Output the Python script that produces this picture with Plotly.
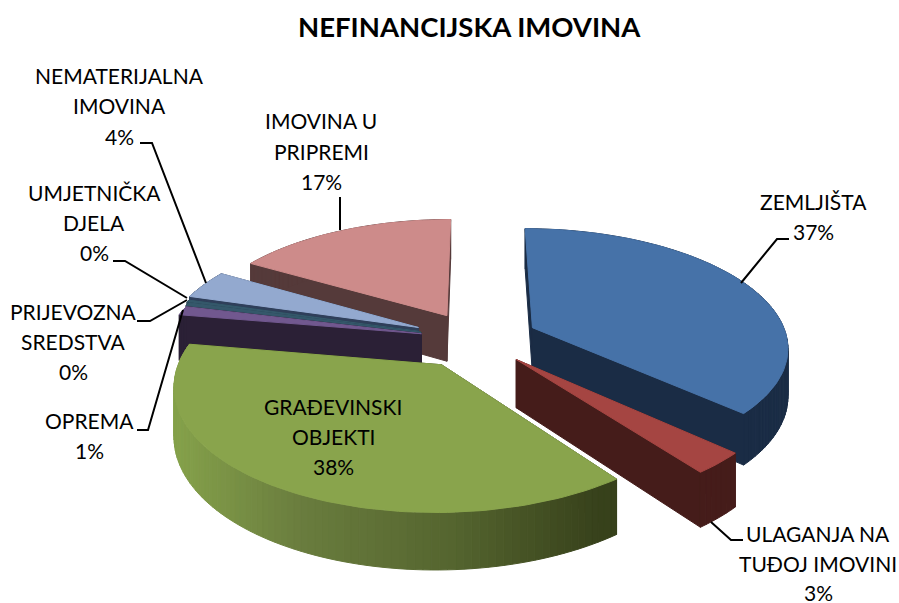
import math
import plotly.graph_objects as go

# ---- data ----
categories = ["ZEMLJIŠTA", "ULAGANJA NA TUĐOJ IMOVINI", "GRAĐEVINSKI OBJEKTI", "OPREMA",
              "PRIJEVOZNA SREDSTVA", "UMJETNIČKA DJELA", "NEMATERIJALNA IMOVINA", "IMOVINA U PRIPREMI"]
values = [36.9, 2.9, 37.9, 1.2, 0.4, 0.3, 3.9, 16.5]
pulls = [0.245, 0.23, 0.25, 0.22, 0.225, 0.235, 0.25, 0.237]
top_colors = ["#4672A8", "#A54542", "#89A44C", "#71588F", "#35586B", "#35586B", "#93A9CF", "#CD8B8A"]
side_colors = ["#1A2C45", "#451C1A", "#56652F", "#2B2036", "#24404F", "#24404F", "#2F3F5A", "#553A3A"]
draw_order = [7, 6, 5, 4, 3, 0, 1, 2]

title_text = "NEFINANCIJSKA IMOVINA"
label_lines = [
    (813, [(201, "ZEMLJIŠTA"), (231, "37%")]),
    (818, [(533, "ULAGANJA NA"), (563, "TUĐOJ IMOVINI"), (592, "3%")]),
    (333, [(406, "GRAĐEVINSKI"), (436, "OBJEKTI"), (466, "38%")]),
    (89, [(420, "OPREMA"), (450, "1%")]),
    (73, [(311, "PRIJEVOZNA"), (341, "SREDSTVA"), (371, "0%")]),
    (94, [(192, "UMJETNIČKA"), (222, "DJELA"), (252, "0%")]),
    (119, [(75, "NEMATERIJALNA"), (105, "IMOVINA"), (136, "4%")]),
    (321, [(120, "IMOVINA U"), (151, "PRIPREMI"), (181, "17%")]),
]
leaders = [
    [(789, 239), (777, 239), (741, 283)],
    [(711, 522), (731, 540), (743, 540)],
    [(340, 197), (340, 230)],
    [(140, 143), (152, 143), (206, 283)],
    [(113, 261), (125, 261), (187, 298)],
    [(137, 321), (150, 321), (187, 300)],
    [(137, 430), (148, 430), (183, 310)],
]

# ---- projection of the tilted pie ----
CX, CY = 476, 339
RX, RY = 255, 117
K = 0.15
HEIGHT = 47
STEP_DEG = 1.5


def project(x, y, z=0.0):
    s = 1 / (1 + K * y)
    return CX + x * RX * s, CY - y * RY * s + z * HEIGHT * s


def mix(a, b, t):
    a = [int(a[i:i + 2], 16) for i in (1, 3, 5)]
    b = [int(b[i:i + 2], 16) for i in (1, 3, 5)]
    return "#" + "".join(f"{round(p + (q - p) * t):02X}" for p, q in zip(a, b))


def green_wall(px):
    stops = [(180, "#84A04A"), (300, "#6A7D3E"), (450, "#55652F"), (600, "#37411B")]
    if px <= stops[0][0]:
        return stops[0][1]
    for (x0, c0), (x1, c1) in zip(stops, stops[1:]):
        if px <= x1:
            return mix(c0, c1, (px - x0) / (x1 - x0))
    return stops[-1][1]


fig = go.Figure()


def poly(points, color):
    fig.add_trace(go.Scatter(
        x=[p[0] for p in points] + [points[0][0]],
        y=[p[1] for p in points] + [points[0][1]],
        mode="lines", fill="toself", fillcolor=color,
        line=dict(color=color, width=1), hoverinfo="skip", showlegend=False))


total = sum(values)
starts = []
acc = 0.0
for v in values:
    starts.append(acc)
    acc += v

for i in draw_order:
    a0 = math.radians(starts[i] / total * 360)
    a1 = math.radians((starts[i] + values[i]) / total * 360)
    mid = (a0 + a1) / 2
    ox, oy = pulls[i] * math.sin(mid), pulls[i] * math.cos(mid)
    n = max(2, int(math.degrees(a1 - a0) / STEP_DEG) + 1)
    rim = [(ox + math.sin(a0 + (a1 - a0) * j / n), oy + math.cos(a0 + (a1 - a0) * j / n)) for j in range(n + 1)]
    for edge in (rim[0], rim[-1]):
        face = [project(ox, oy), project(*edge), project(*edge, 1), project(ox, oy, 1)]
        col = side_colors[i] if i != 2 else "#37411B"
        poly(face, col)
    segs = sorted(zip(rim, rim[1:]), key=lambda s: -s[0][1])
    for p, q in segs:
        quad = [project(*p), project(*q), project(*q, 1), project(*p, 1)]
        col = side_colors[i] if i != 2 else green_wall((quad[0][0] + quad[1][0]) / 2)
        poly(quad, col)
    poly([project(ox, oy)] + [project(*p) for p in rim], top_colors[i])

for line in leaders:
    fig.add_trace(go.Scatter(x=[p[0] for p in line], y=[p[1] for p in line], mode="lines",
                             line=dict(color="#000000", width=2), hoverinfo="skip", showlegend=False))

for x, rows in label_lines:
    for y, text in rows:
        fig.add_annotation(x=x, y=y, text=text, showarrow=False, xanchor="center", yanchor="middle",
                           font=dict(family="Lato, Carlito, sans-serif", size=21, color="#000000"))

fig.add_annotation(x=469, y=26, text=f"<b>{title_text}</b>", showarrow=False, xanchor="center", yanchor="middle",
                   font=dict(family="Lato, Carlito, sans-serif", size=27.5, color="#000000"))

fig.update_layout(
    width=899, height=603, margin=dict(l=0, r=0, t=0, b=0),
    paper_bgcolor="#FFFFFF", plot_bgcolor="#FFFFFF", showlegend=False,
    xaxis=dict(range=[0, 899], visible=False, fixedrange=True),
    yaxis=dict(range=[603, 0], visible=False, fixedrange=True),
)
fig.write_html("out.html", config={"displayModeBar": False},
               post_script="document.body.style.margin='0';document.documentElement.style.overflow='hidden';")
